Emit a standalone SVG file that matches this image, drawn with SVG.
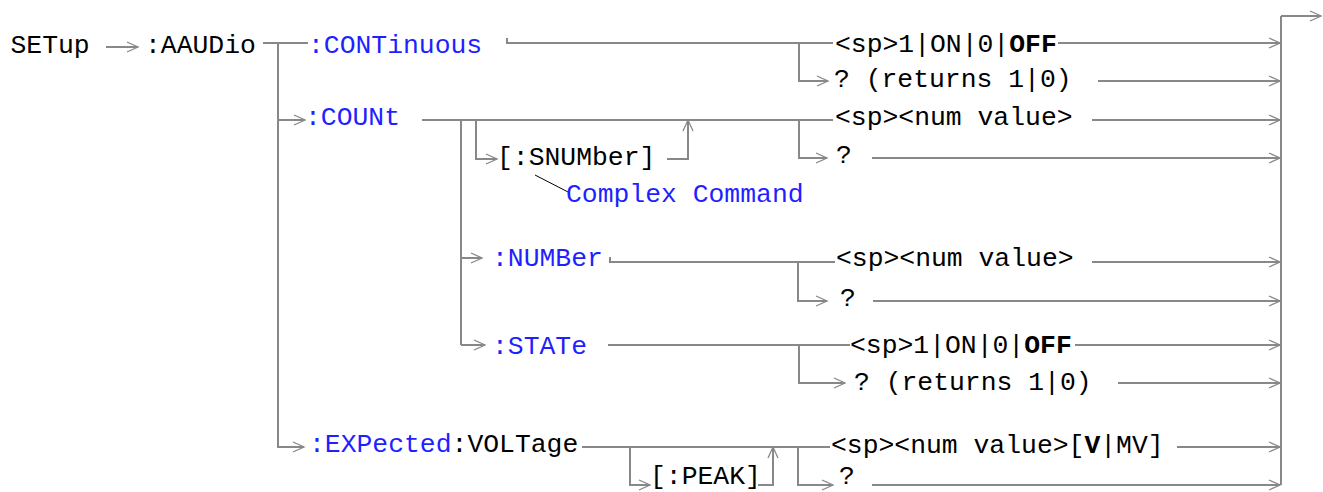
<svg xmlns="http://www.w3.org/2000/svg" width="1323" height="492" viewBox="0 0 1323 492">
<defs>
<style>
text{font-family:"Liberation Mono","Courier New",monospace;font-size:26.4px;fill:#000}
.b{fill:#1f1fff}
.k{font-weight:bold}
.c path{fill:none;stroke:#888;stroke-width:2}
.c path.a{marker-end:url(#arr)}
.c path.ld{stroke:#000;stroke-width:1}
</style>
<marker id="arr" markerUnits="userSpaceOnUse" markerWidth="14" markerHeight="14" refX="12" refY="7" orient="auto">
<path d="M1,2 L12,7 L1,12" fill="none" stroke="#888" stroke-width="1.3"/>
</marker>
</defs>
<rect width="1323" height="492" fill="#fff"/>
<g class="c" id="connectors">
<path class="a" d="M106,47 H138"/>
<path d="M263,43 H308"/>
<path d="M278,43 V448"/>
<path class="a" d="M278,120 H305"/>
<path class="a" d="M278,447 H304"/>
<path d="M507,38 V43 H833"/>
<path class="a" d="M799,43 V81 H828"/>
<path class="a" d="M1058,43 H1280"/>
<path class="a" d="M1098,81 H1280"/>
<path d="M422,120 H833"/>
<path d="M461,120 V345"/>
<path class="a" d="M476,120 V159 H497"/>
<path class="a" d="M667,159 H688 V120"/>
<path class="a" d="M799,120 V158 H827"/>
<path class="a" d="M1092,120 H1280"/>
<path class="a" d="M872,158 H1280"/>
<path class="ld" d="M535,175 L570,193"/>
<path class="a" d="M461,258 H482"/>
<path d="M610,257 V262 H835"/>
<path class="a" d="M798,262 V301 H827"/>
<path class="a" d="M1092,262 H1280"/>
<path class="a" d="M873,301 H1280"/>
<path class="a" d="M461,345 H485"/>
<path d="M608,345 H850"/>
<path class="a" d="M799,345 V383 H845"/>
<path class="a" d="M1075,345 H1280"/>
<path class="a" d="M1118,383 H1280"/>
<path d="M582,447 H830"/>
<path class="a" d="M630,447 V485 H650"/>
<path class="a" d="M758,485 H773 V447"/>
<path class="a" d="M798,447 V485 H833"/>
<path class="a" d="M1177,447 H1280"/>
<path class="a" d="M872,485 H1280"/>
<path d="M1281,16 V485"/>
<path class="a" d="M1281,16 H1321"/>
</g>
<g id="setup"><text x="10.5" y="53">SETup</text></g>
<g id="aaudio"><text x="145" y="53">:AAUDio</text></g>
<g id="continuous"><text class="b" x="308" y="53">:CONTinuous</text></g>
<g id="cont-set"><text x="835" y="52">&lt;sp&gt;1|ON|0|<tspan class="k">OFF</tspan></text></g>
<g id="cont-query"><text x="834" y="87">? (returns 1|0)</text></g>
<g id="count"><text class="b" x="305" y="125">:COUNt</text></g>
<g id="count-set"><text x="835" y="125">&lt;sp&gt;&lt;num value&gt;</text></g>
<g id="count-query"><text x="836" y="163">?</text></g>
<g id="snumber"><text x="497" y="165">[:SNUMber]</text></g>
<g id="complex"><text class="b" x="566" y="202">Complex Command</text></g>
<g id="number"><text class="b" x="492" y="266">:NUMBer</text></g>
<g id="number-set"><text x="836" y="266">&lt;sp&gt;&lt;num value&gt;</text></g>
<g id="number-query"><text x="840" y="306">?</text></g>
<g id="state"><text class="b" x="492" y="354">:STATe</text></g>
<g id="state-set"><text x="850" y="353">&lt;sp&gt;1|ON|0|<tspan class="k">OFF</tspan></text></g>
<g id="state-query"><text x="854" y="390">? (returns 1|0)</text></g>
<g id="expected"><text x="309" y="452"><tspan class="b">:EXPected</tspan>:VOLTage</text></g>
<g id="exp-set"><text x="831" y="453">&lt;sp&gt;&lt;num value&gt;[<tspan class="k">V</tspan>|MV]</text></g>
<g id="peak"><text x="650" y="484">[:PEAK]</text></g>
<g id="exp-query"><text x="839" y="484">?</text></g>
</svg>
